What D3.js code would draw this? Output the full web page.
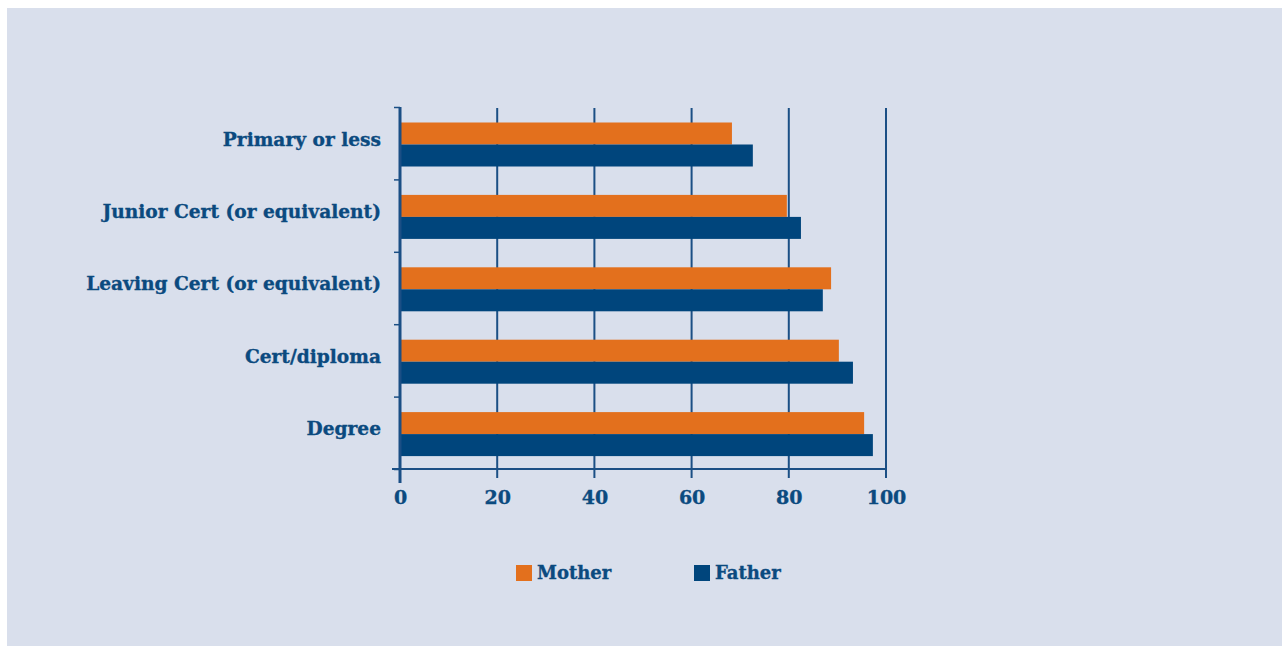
<!DOCTYPE html>
<html lang="en">
  <head>
    <meta charset="UTF-8" />
    <title>Mother / Father by education</title>
    <script src="https://d3js.org/d3.v7.min.js"></script>
    <style>
      body {
        margin: 0;
        background: #ffffff;
      }
      text {
        font-family: "DejaVu Serif", serif;
        font-weight: bold;
        fill: #0b4a7f;
        stroke: #0b4a7f;
        stroke-width: 0.35px;
      }
    </style>
  </head>
  <body>
    <div id="chart"></div>
    <script>
      // values
      const categories = ["Primary or less", "Junior Cert (or equivalent)", "Leaving Cert (or equivalent)", "Cert/diploma", "Degree"];
      const mother = [68.3, 79.6, 88.7, 90.3, 95.5];
      const father = [72.6, 82.5, 87.0, 93.2, 97.3];
      const seriesNames = ["Mother", "Father"];
      const xTicks = [0, 20, 40, 60, 80, 100];

      const width = 1282;
      const height = 646;
      const orange = "#e3701d";
      const blue = "#00457c";
      const lineColor = "#1b4f85";

      const svg = d3.select("#chart").append("svg").attr("width", width).attr("height", height);

      // panel
      svg.append("rect").attr("x", 7).attr("y", 8).attr("width", width - 7).attr("height", 638).attr("fill", "#d9dfec");

      const x = d3.scaleLinear().domain([0, 100]).range([400, 886]);
      const y = d3.scaleBand().domain(categories).range([107.5, 469.5]);
      const inner = d3.scaleBand().domain(seriesNames).range([15, y.bandwidth() - 13.4]);

      // gridlines
      svg
        .append("g")
        .selectAll("line")
        .data(xTicks.slice(1))
        .enter()
        .append("line")
        .attr("x1", (d) => x(d))
        .attr("x2", (d) => x(d))
        .attr("y1", 108)
        .attr("y2", 478)
        .attr("stroke", lineColor)
        .attr("stroke-width", 2);

      // bars
      const rows = categories.map((c, i) => ({ cat: c, vals: [mother[i], father[i]] }));
      const groups = svg
        .append("g")
        .selectAll("g")
        .data(rows)
        .enter()
        .append("g")
        .attr("transform", (d) => `translate(0, ${y(d.cat)})`);

      groups
        .selectAll("rect")
        .data((d) => d.vals.map((v, k) => ({ name: seriesNames[k], v })))
        .enter()
        .append("rect")
        .attr("x", x(0) + 1)
        .attr("y", (d) => inner(d.name))
        .attr("width", (d) => x(d.v) - x(0) - 1)
        .attr("height", inner.bandwidth())
        .attr("fill", (d) => (d.name === "Mother" ? orange : blue));

      // x axis
      const xAxis = d3.axisBottom(x).tickValues(xTicks).tickSize(0).tickPadding(0);
      const gx = svg.append("g").attr("transform", "translate(0, 469)").call(xAxis);
      gx.select(".domain").remove();
      gx.selectAll("text").attr("dy", "0.35em").attr("y", 28).style("font-size", "19px").attr("font-family", null).attr("fill", null);
      svg.append("line").attr("x1", 392).attr("x2", 886).attr("y1", 469).attr("y2", 469).attr("stroke", lineColor).attr("stroke-width", 2);

      // y axis
      const yTicks = categories.map((c) => y(c)).concat([y.range()[1]]);
      svg
        .append("g")
        .selectAll("line")
        .data(yTicks)
        .enter()
        .append("line")
        .attr("x1", 394)
        .attr("x2", 400)
        .attr("y1", (d) => d)
        .attr("y2", (d) => d)
        .attr("stroke", lineColor)
        .attr("stroke-width", 1.5);
      svg.append("line").attr("x1", 400).attr("x2", 400).attr("y1", 107).attr("y2", 483).attr("stroke", lineColor).attr("stroke-width", 3);

      const yAxis = d3.axisLeft(y).tickSize(0).tickPadding(19);
      const gy = svg.append("g").attr("transform", "translate(400, 0)").call(yAxis);
      gy.select(".domain").remove();
      gy.selectAll("text").attr("dy", "0.1em").style("font-size", "18.6px").attr("font-family", null).attr("fill", null);

      // legend
      const legend = svg
        .append("g")
        .selectAll("g")
        .data(seriesNames)
        .enter()
        .append("g")
        .attr("transform", (d, i) => `translate(${516 + i * 178}, 565)`);
      legend
        .append("rect")
        .attr("width", 16)
        .attr("height", 16)
        .attr("fill", (d) => (d === "Mother" ? orange : blue));
      legend
        .append("text")
        .attr("x", 21)
        .attr("y", 8)
        .attr("dy", "0.35em")
        .style("font-size", "18px")
        .text((d) => d);
    </script>
  </body>
</html>
